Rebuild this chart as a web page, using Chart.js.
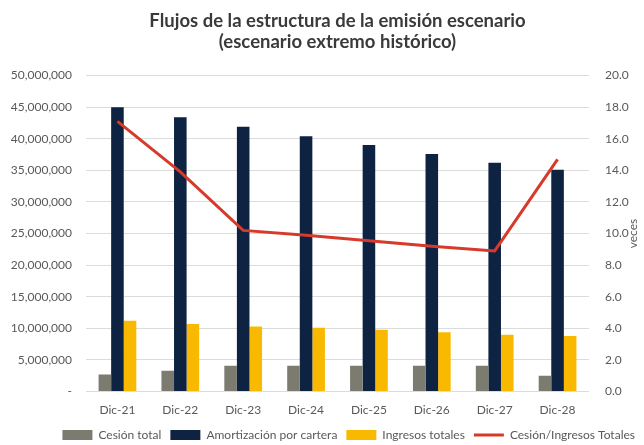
<!doctype html>
<html lang="es">
<head>
  <meta charset="utf-8" />
  <title>Flujos de la estructura de la emisión</title>
  <script src="https://cdn.jsdelivr.net/npm/chart.js@4.4.1/dist/chart.umd.min.js"></script>
  <style>
    html, body { margin: 0; padding: 0; background: #fff; }
    .chartContainer { width: 644px; height: 445px; }
  </style>
</head>
<body>
  <div class="chartContainer">
    <canvas id="flujosChart"></canvas>
  </div>
<script>
  // datos
  var periodos = ['Dic-21', 'Dic-22', 'Dic-23', 'Dic-24', 'Dic-25', 'Dic-26', 'Dic-27', 'Dic-28'];
  var cesionTotal = [2700000, 3300000, 4100000, 4100000, 4100000, 4100000, 4100000, 2500000];
  var amortizacionCartera = [45000000, 43400000, 41900000, 40400000, 39000000, 37600000, 36200000, 35100000];
  var ingresosTotales = [11200000, 10700000, 10300000, 10100000, 9800000, 9400000, 9000000, 8800000];
  var cesionIngresos = [17.1, 13.9, 10.2, 9.9, 9.55, 9.2, 8.9, 14.7];

  var gris = '#595959';
  var fuente = 'Lato, "DejaVu Sans", sans-serif';

  // etiqueta "veces" girada en el eje derecho
  var tituloDerecho = {
    id: 'tituloDerecho',
    afterDraw: function(chart) {
      var ctx = chart.ctx;
      var area = chart.chartArea;
      ctx.save();
      ctx.translate(633, (area.top + area.bottom) / 2);
      ctx.rotate(-Math.PI / 2);
      ctx.font = '12px ' + fuente;
      ctx.fillStyle = gris;
      ctx.textAlign = 'center';
      ctx.textBaseline = 'middle';
      ctx.fillText('veces', 0, 0);
      ctx.restore();
    }
  };

  var ctx = document.getElementById('flujosChart').getContext('2d');
  var chart = new Chart(ctx, {
    type: 'bar',
    data: {
      labels: periodos,
      datasets: [
        {
          type: 'line',
          label: 'Cesión/Ingresos Totales',
          data: cesionIngresos,
          yAxisID: 'y1',
          borderColor: '#d63a2b',
          backgroundColor: '#d63a2b',
          borderWidth: 3,
          pointRadius: 0,
          pointStyle: 'line',
          tension: 0,
          order: 0
        },
        {
          label: 'Cesión total',
          data: cesionTotal,
          backgroundColor: '#7c7b70',
          pointStyle: 'rect',
          order: 1
        },
        {
          label: 'Amortización por cartera',
          data: amortizacionCartera,
          backgroundColor: '#0e2242',
          pointStyle: 'rect',
          order: 1
        },
        {
          label: 'Ingresos totales',
          data: ingresosTotales,
          backgroundColor: '#f8b900',
          pointStyle: 'rect',
          order: 1
        }
      ]
    },
    options: {
      responsive: true,
      maintainAspectRatio: false,
      animation: false,
      categoryPercentage: 0.6,
      barPercentage: 1.0,
      layout: { padding: { top: 0, bottom: -6, left: 0, right: 0 } },
      plugins: {
        title: {
          display: true,
          fullSize: false,
          text: ['Flujos de la estructura de la emisión escenario', '(escenario extremo histórico)'],
          color: '#3a3a3a',
          font: { family: fuente, size: 18.5, weight: 'bold', lineHeight: 1.15 },
          padding: { top: 10, bottom: 23 }
        },
        legend: {
          position: 'bottom',
          align: 'end',
          labels: {
            usePointStyle: true,
            pointStyleWidth: 30,
            boxHeight: 10,
            padding: 9,
            color: gris,
            font: { family: fuente, size: 12 },
            sort: function(a, b) { return (a.datasetIndex || 4) - (b.datasetIndex || 4); }
          }
        },
        tooltip: { enabled: false }
      },
      scales: {
        x: {
          grid: { display: false },
          border: { display: false },
          ticks: { color: gris, font: { family: fuente, size: 12 }, padding: 3 }
        },
        y: {
          position: 'left',
          min: 0,
          max: 50000000,
          border: { display: false },
          grid: { color: '#dcdcdc', lineWidth: 1, drawTicks: false },
          afterFit: function(scale) { scale.width = 86; },
          ticks: {
            stepSize: 5000000,
            color: gris,
            padding: 14,
            font: { family: fuente, size: 12 },
            callback: function(v) { return v === 0 ? '-' : v.toLocaleString('en-US'); }
          }
        },
        y1: {
          position: 'right',
          min: 0,
          max: 20,
          border: { display: false },
          grid: { display: false },
          afterFit: function(scale) { scale.width = 55; },
          ticks: {
            stepSize: 2,
            color: gris,
            padding: 8,
            font: { family: fuente, size: 12 },
            callback: function(v) { return v.toFixed(1); }
          }
        }
      }
    },
    plugins: [tituloDerecho]
  });
</script>
</body>
</html>
